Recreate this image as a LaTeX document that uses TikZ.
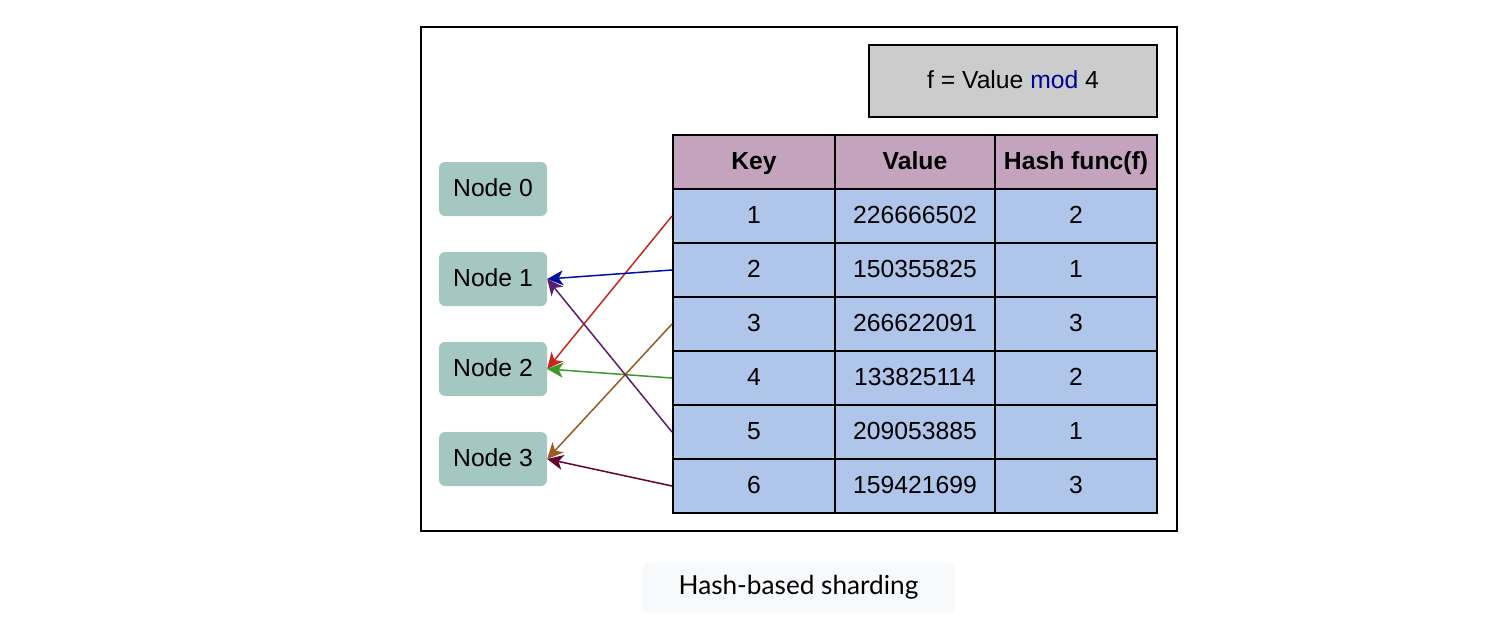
\documentclass[tikz,border=0pt]{standalone}
\usepackage{fontspec}
\setmainfont{Liberation Sans}
\newfontfamily\capfont{Lato}
\usetikzlibrary{arrows.meta}
\definecolor{hdr}{HTML}{C4A3BE}
\definecolor{body}{HTML}{AFC5EA}
\definecolor{nodef}{HTML}{A4C8C1}
\definecolor{grayf}{HTML}{CCCCCC}
\definecolor{capf}{HTML}{F8F9FB}
\definecolor{modblue}{HTML}{000099}
\definecolor{cred}{HTML}{C8261C}
\definecolor{cblue}{HTML}{0011A0}
\definecolor{cbrown}{HTML}{9A5A20}
\definecolor{cgreen}{HTML}{3A9A2A}
\definecolor{cpurple}{HTML}{5E1A70}
\definecolor{cmaroon}{HTML}{660030}
\tikzset{
  txt/.style={font=\fontsize{24.7}{30}\selectfont, text height=18pt, text depth=2.3pt},
  shard/.style={txt, fill=nodef, rounded corners=6pt, minimum width=108pt, minimum height=54pt, inner sep=0pt},
  cellbase/.style={txt, draw=black, line width=2pt, minimum height=54pt, inner sep=0pt},
  hcell/.style={cellbase, fill=hdr, font=\fontsize{24.7}{30}\selectfont\bfseries},
  bcell/.style={cellbase, fill=body},
  conn/.style={line width=1.5pt, -{Stealth[length=16pt,width=15pt,inset=4.5pt]}},
}
\begin{document}
\begin{tikzpicture}[x=1pt,y=-1pt]
\useasboundingbox (0,0) rectangle (1506,630);
\node[draw=black, line width=2pt, minimum width=756pt, minimum height=504pt, inner sep=0pt] (outer) at (799,279) {};
\node[txt, draw=black, line width=2pt, fill=grayf, minimum width=288pt, minimum height=72pt, inner sep=0pt] (formula) at (1013,81) {f = Value \textcolor{modblue}{mod} 4};
% shard nodes
\node[shard] (n0) at (493,189) {Node 0};
\node[shard] (n1) at (493,279) {Node 1};
\node[shard] (n2) at (493,369) {Node 2};
\node[shard] (n3) at (493,459) {Node 3};
% table header
\node[hcell, minimum width=162pt] (hk) at (754,162) {Key};
\node[hcell, minimum width=160pt] (hv) at (915,162) {Value};
\node[hcell, minimum width=162pt] (hh) at (1076,162) {Hash func(f)};
% table rows
\foreach \i/\v/\h [evaluate=\i as \y using {162+54*\i}] in {1/226666502/2, 2/150355825/1, 3/266622091/3, 4/133825114/2, 5/209053885/1, 6/159421699/3}{
  \node[bcell, minimum width=162pt] (k\i) at (754,\y) {\i};
  \node[bcell, minimum width=160pt] (v\i) at (915,\y) {\v};
  \node[bcell, minimum width=162pt] (h\i) at (1076,\y) {\h};
}
% connectors
\draw[conn, cred] (k1.west) -- (n2.east);
\draw[conn, cblue] (k2.west) -- (n1.east);
\draw[conn, cbrown] (k3.west) -- (n3.east);
\draw[conn, cgreen] (k4.west) -- (n2.east);
\draw[conn, cpurple] (k5.west) -- (n1.east);
\draw[conn, cmaroon] (k6.west) -- (n3.east);
% caption
\node[fill=capf, rounded corners=6pt, minimum width=313pt, minimum height=51pt, inner sep=0pt, font=\capfont\fontsize{26.2}{30}\selectfont] (cap) at (798.5,587.5) {Hash-based sharding};
\end{tikzpicture}
\end{document}
